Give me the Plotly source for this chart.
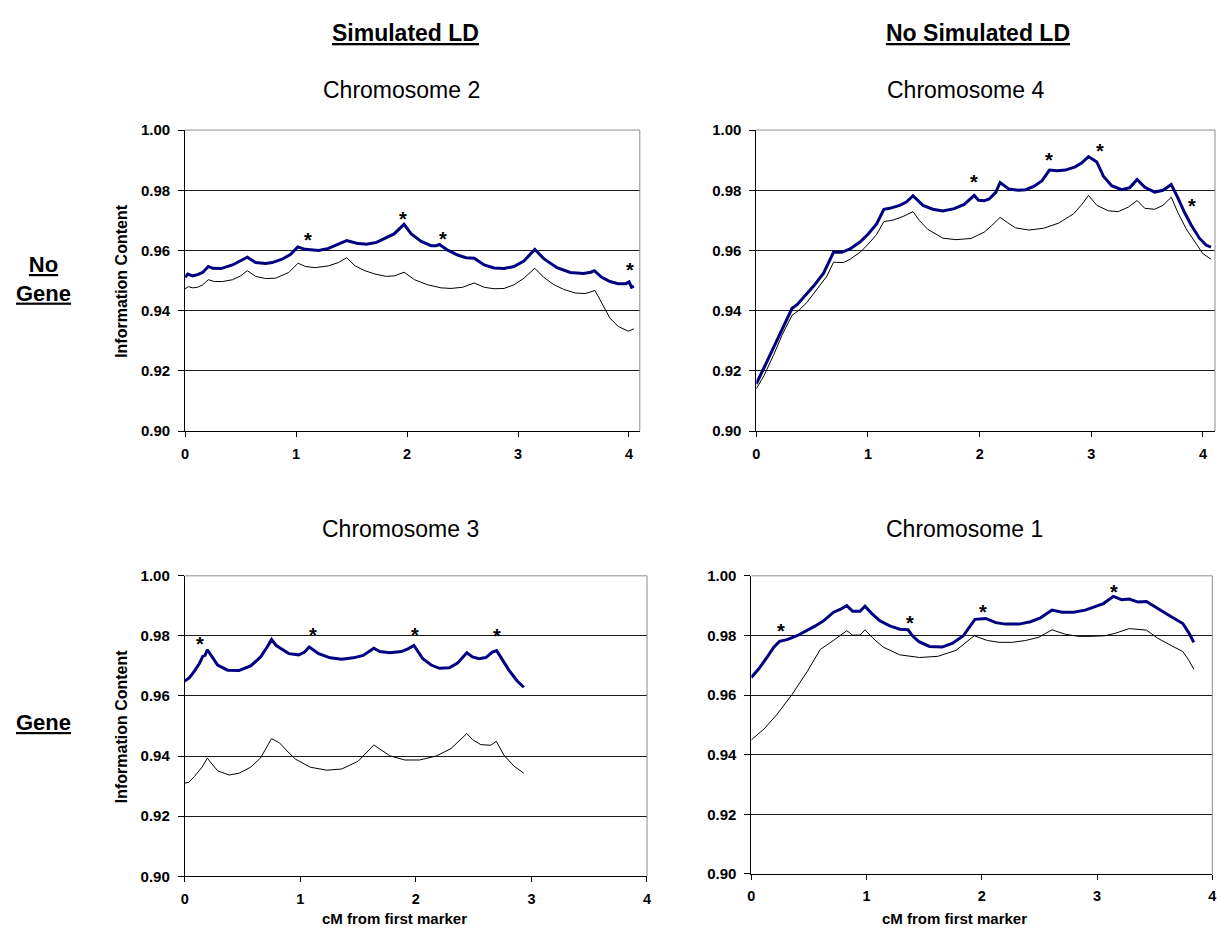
import plotly.graph_objects as go

# ---------------- DATA ----------------
# Chromosome 2 (Simulated LD, No Gene)
chr2_blue_x = [0.000, 0.024, 0.069, 0.113, 0.158, 0.209, 0.248, 0.322, 0.427, 0.501, 0.561, 0.636, 0.725, 0.785,
               0.874, 0.949, 1.015, 1.083, 1.203, 1.292, 1.382, 1.456, 1.546, 1.635, 1.725, 1.799, 1.883, 1.973,
               2.038, 2.128, 2.217, 2.262, 2.292, 2.366, 2.456, 2.531, 2.605, 2.695, 2.784, 2.874, 2.963, 3.053,
               3.151, 3.232, 3.351, 3.471, 3.590, 3.656, 3.688, 3.754, 3.829, 3.903, 3.972, 4.002, 4.023, 4.044]
chr2_blue_y = [0.9511, 0.9522, 0.9516, 0.9520, 0.9527, 0.9547, 0.9541, 0.9540, 0.9552, 0.9565, 0.9578, 0.9560,
               0.9557, 0.9560, 0.9571, 0.9587, 0.9612, 0.9604, 0.9600, 0.9607, 0.9620, 0.9633, 0.9624, 0.9621,
               0.9627, 0.9639, 0.9655, 0.9687, 0.9655, 0.9630, 0.9616, 0.9616, 0.9620, 0.9601, 0.9585, 0.9576,
               0.9574, 0.9552, 0.9542, 0.9540, 0.9547, 0.9565, 0.9604, 0.9573, 0.9543, 0.9527, 0.9524, 0.9528,
               0.9533, 0.9511, 0.9497, 0.9490, 0.9490, 0.9496, 0.9478, 0.9482]
chr2_black_x = [0.000, 0.030, 0.069, 0.113, 0.158, 0.209, 0.263, 0.337, 0.427, 0.501, 0.561, 0.636, 0.725, 0.815,
                0.934, 1.018, 1.083, 1.173, 1.292, 1.382, 1.456, 1.531, 1.620, 1.710, 1.814, 1.889, 1.973, 2.068,
                2.187, 2.307, 2.396, 2.501, 2.605, 2.695, 2.784, 2.874, 2.963, 3.053, 3.151, 3.232, 3.321, 3.411,
                3.515, 3.605, 3.694, 3.769, 3.829, 3.903, 3.993, 4.044]
chr2_black_y = [0.9473, 0.9480, 0.9476, 0.9478, 0.9486, 0.9503, 0.9497, 0.9497, 0.9503, 0.9516, 0.9533, 0.9514,
                0.9507, 0.9508, 0.9527, 0.9558, 0.9547, 0.9543, 0.9549, 0.9560, 0.9576, 0.9549, 0.9533, 0.9522,
                0.9514, 0.9516, 0.9528, 0.9503, 0.9486, 0.9476, 0.9474, 0.9478, 0.9492, 0.9478, 0.9473, 0.9474,
                0.9486, 0.9508, 0.9541, 0.9511, 0.9487, 0.9471, 0.9459, 0.9457, 0.9467, 0.9413, 0.9375, 0.9348,
                0.9332, 0.9340]
chr2_star_x = [1.107, 1.967, 2.325, 4.008]
chr2_star_y = [0.9647, 0.9717, 0.9652, 0.9549]

# Chromosome 4 (No Simulated LD, No Gene)
chr4_blue_x = [0.000, 0.068, 0.157, 0.246, 0.320, 0.365, 0.424, 0.513, 0.602, 0.691, 0.765, 0.839, 0.928, 1.002,
               1.077, 1.142, 1.195, 1.284, 1.343, 1.403, 1.492, 1.581, 1.670, 1.773, 1.862, 1.951, 1.990, 2.040,
               2.085, 2.144, 2.183, 2.263, 2.352, 2.411, 2.485, 2.559, 2.625, 2.693, 2.767, 2.856, 2.915, 2.975,
               3.049, 3.108, 3.182, 3.271, 3.345, 3.410, 3.479, 3.568, 3.642, 3.716, 3.775, 3.835, 3.894, 3.968,
               4.027, 4.072]
chr4_blue_y = [0.9157, 0.9211, 0.9282, 0.9352, 0.9408, 0.9420, 0.9444, 0.9482, 0.9525, 0.9594, 0.9594, 0.9605,
               0.9628, 0.9655, 0.9688, 0.9737, 0.9740, 0.9750, 0.9761, 0.9782, 0.9750, 0.9737, 0.9731, 0.9739,
               0.9753, 0.9783, 0.9767, 0.9765, 0.9771, 0.9793, 0.9826, 0.9804, 0.9800, 0.9802, 0.9813, 0.9832,
               0.9867, 0.9865, 0.9867, 0.9878, 0.9891, 0.9912, 0.9894, 0.9847, 0.9815, 0.9802, 0.9809, 0.9836,
               0.9810, 0.9794, 0.9800, 0.9819, 0.9775, 0.9726, 0.9685, 0.9641, 0.9618, 0.9611]
chr4_black_x = [0.000, 0.068, 0.157, 0.231, 0.320, 0.380, 0.454, 0.543, 0.632, 0.691, 0.780, 0.839, 0.928, 1.002,
                1.077, 1.142, 1.225, 1.314, 1.403, 1.462, 1.536, 1.670, 1.788, 1.922, 2.040, 2.109, 2.183, 2.248,
                2.322, 2.441, 2.574, 2.708, 2.841, 2.915, 2.975, 3.049, 3.152, 3.241, 3.330, 3.410, 3.479, 3.568,
                3.642, 3.716, 3.775, 3.849, 3.923, 3.998, 4.072]
chr4_black_y = [0.9141, 0.9184, 0.9255, 0.9320, 0.9385, 0.9401, 0.9428, 0.9471, 0.9515, 0.9561, 0.9560, 0.9571,
                0.9594, 0.9621, 0.9653, 0.9696, 0.9701, 0.9713, 0.9729, 0.9699, 0.9670, 0.9641, 0.9636, 0.9640,
                0.9661, 0.9683, 0.9710, 0.9693, 0.9675, 0.9668, 0.9674, 0.9691, 0.9722, 0.9753, 0.9783, 0.9750,
                0.9732, 0.9729, 0.9744, 0.9766, 0.9740, 0.9737, 0.9750, 0.9777, 0.9726, 0.9672, 0.9631, 0.9590,
                0.9571]
chr4_star_x = [1.945, 2.619, 3.078, 3.900]
chr4_star_y = [0.9842, 0.9915, 0.9945, 0.9761]

# Chromosome 3 (Simulated LD, Gene)
chr3_blue_x = [0.000, 0.040, 0.083, 0.126, 0.155, 0.175, 0.195, 0.235, 0.284, 0.370, 0.470, 0.570, 0.656, 0.713,
               0.751, 0.791, 0.828, 0.900, 0.986, 1.037, 1.077, 1.158, 1.258, 1.358, 1.458, 1.544, 1.636, 1.688,
               1.774, 1.874, 1.931, 1.983, 2.060, 2.132, 2.203, 2.289, 2.361, 2.441, 2.490, 2.547, 2.605, 2.662,
               2.699, 2.748, 2.805, 2.877, 2.934]
chr3_blue_y = [0.9650, 0.9661, 0.9683, 0.9708, 0.9732, 0.9735, 0.9754, 0.9730, 0.9703, 0.9686, 0.9685, 0.9700,
               0.9730, 0.9763, 0.9788, 0.9768, 0.9759, 0.9741, 0.9737, 0.9746, 0.9763, 0.9741, 0.9727, 0.9722,
               0.9727, 0.9735, 0.9759, 0.9748, 0.9744, 0.9748, 0.9757, 0.9768, 0.9724, 0.9703, 0.9692, 0.9694,
               0.9710, 0.9744, 0.9730, 0.9724, 0.9728, 0.9746, 0.9751, 0.9719, 0.9686, 0.9650, 0.9629]
chr3_black_x = [0.000, 0.034, 0.083, 0.149, 0.195, 0.235, 0.284, 0.384, 0.470, 0.570, 0.656, 0.751, 0.819, 0.885,
                0.957, 1.086, 1.229, 1.358, 1.501, 1.636, 1.702, 1.774, 1.903, 2.032, 2.175, 2.304, 2.441, 2.490,
                2.562, 2.648, 2.696, 2.762, 2.848, 2.934]
chr3_black_y = [0.9310, 0.9313, 0.9332, 0.9363, 0.9393, 0.9374, 0.9351, 0.9337, 0.9343, 0.9363, 0.9394, 0.9458,
                0.9444, 0.9417, 0.9390, 0.9363, 0.9353, 0.9357, 0.9383, 0.9437, 0.9419, 0.9401, 0.9387, 0.9387,
                0.9400, 0.9425, 0.9475, 0.9455, 0.9438, 0.9436, 0.9449, 0.9403, 0.9367, 0.9343]
chr3_star_x = [0.135, 1.106, 1.991, 2.702]
chr3_star_y = [0.9786, 0.9817, 0.9817, 0.9814]

# Chromosome 1 (No Simulated LD, Gene)
chr1_blue_x = [0.000, 0.066, 0.138, 0.195, 0.244, 0.310, 0.397, 0.483, 0.555, 0.626, 0.713, 0.770, 0.828, 0.879,
               0.943, 0.986, 1.043, 1.115, 1.201, 1.287, 1.359, 1.402, 1.454, 1.546, 1.655, 1.747, 1.839, 1.940,
               2.034, 2.121, 2.207, 2.322, 2.422, 2.509, 2.609, 2.695, 2.796, 2.897, 2.983, 3.055, 3.141, 3.213,
               3.279, 3.356, 3.428, 3.529, 3.644, 3.744, 3.802, 3.839]
chr1_blue_y = [0.9659, 0.9689, 0.9728, 0.9761, 0.9780, 0.9786, 0.9799, 0.9816, 0.9832, 0.9849, 0.9878, 0.9887,
               0.9900, 0.9881, 0.9881, 0.9898, 0.9874, 0.9849, 0.9832, 0.9821, 0.9819, 0.9797, 0.9779, 0.9763,
               0.9761, 0.9774, 0.9799, 0.9854, 0.9857, 0.9843, 0.9838, 0.9838, 0.9846, 0.9859, 0.9885, 0.9878,
               0.9878, 0.9885, 0.9896, 0.9907, 0.9931, 0.9920, 0.9922, 0.9912, 0.9914, 0.9889, 0.9863, 0.9840,
               0.9805, 0.9777]
chr1_black_x = [0.000, 0.109, 0.224, 0.353, 0.483, 0.598, 0.718, 0.828, 0.879, 0.943, 0.986, 1.057, 1.144, 1.287,
                1.460, 1.618, 1.776, 1.934, 2.049, 2.149, 2.264, 2.379, 2.494, 2.609, 2.724, 2.839, 2.954, 3.069,
                3.155, 3.279, 3.428, 3.529, 3.644, 3.744, 3.796, 3.839]
chr1_black_y = [0.9450, 0.9486, 0.9536, 0.9602, 0.9678, 0.9753, 0.9785, 0.9816, 0.9801, 0.9801, 0.9819, 0.9790,
                0.9761, 0.9735, 0.9726, 0.9730, 0.9750, 0.9799, 0.9783, 0.9777, 0.9777, 0.9783, 0.9794, 0.9819,
                0.9804, 0.9797, 0.9797, 0.9799, 0.9807, 0.9823, 0.9818, 0.9790, 0.9766, 0.9746, 0.9717, 0.9687]
chr1_star_x = [0.261, 1.376, 2.011, 3.144]
chr1_star_y = [0.9827, 0.9854, 0.9892, 0.9960]

y_ticks = [0.90, 0.92, 0.94, 0.96, 0.98, 1.00]
x_ticks = [0, 1, 2, 3, 4]

col_headers = ["Simulated LD", "No Simulated LD"]
row_headers = [["No", "Gene"], ["Gene"]]
y_title = "Information Content"
x_title = "cM from first marker"

# ---------------- LAYOUT ----------------
# Positions are given in window pixels; the body margin is removed (post_script)
# so that the 1221x936 figure fills the window exactly.
W, H = 1221, 936
FONT = "Liberation Sans, Arial, sans-serif"
BLUE = "#000080"


def fx(p):
    return p / W


def fy(p):
    return 1 - p / H


panels = [
    dict(title="Chromosome 2", n="", box=(182.3, 640.0, 123.3, 430.0), ppu=111.7,
         bx=chr2_blue_x, by=chr2_blue_y, kx=chr2_black_x, ky=chr2_black_y, sx=chr2_star_x, sy=chr2_star_y,
         tcx=400, tcy=82, ylab=True, xlab=False),
    dict(title="Chromosome 4", n="2", box=(757.3, 1219.0, 123.3, 430.0), ppu=112.4,
         bx=chr4_blue_x, by=chr4_blue_y, kx=chr4_black_x, ky=chr4_black_y, sx=chr4_star_x, sy=chr4_star_y,
         tcx=968, tcy=82, ylab=False, xlab=False),
    dict(title="Chromosome 3", n="3", box=(182.0, 647.3, 577.3, 883.3), ppu=116.3,
         bx=chr3_blue_x, by=chr3_blue_y, kx=chr3_black_x, ky=chr3_black_y, sx=chr3_star_x, sy=chr3_star_y,
         tcx=399, tcy=530, ylab=True, xlab=True, xlab_cx=393),
    dict(title="Chromosome 1", n="4", box=(752.3, 1216.3, 577.3, 881.0), ppu=116.0,
         bx=chr1_blue_x, by=chr1_blue_y, kx=chr1_black_x, ky=chr1_black_y, sx=chr1_star_x, sy=chr1_star_y,
         tcx=967, tcy=530, ylab=False, xlab=True, xlab_cx=957),
]

fig = go.Figure()
annotations = []
shapes = []
layout_axes = {}

for p in panels:
    n = p["n"]
    xref, yref = "x" + n, "y" + n
    x0, x1, y0, y1 = p["box"]
    xmax = (x1 - x0) / p["ppu"]
    fig.add_trace(go.Scatter(x=p["kx"], y=p["ky"], mode="lines", xaxis=xref, yaxis=yref, cliponaxis=False,
                             line=dict(color="#000000", width=1), showlegend=False, hoverinfo="skip"))
    fig.add_trace(go.Scatter(x=p["bx"], y=p["by"], mode="lines", xaxis=xref, yaxis=yref, cliponaxis=False,
                             line=dict(color=BLUE, width=3), showlegend=False, hoverinfo="skip"))
    layout_axes["xaxis" + n] = dict(
        domain=[fx(x0), fx(x1)], range=[0, xmax], anchor=yref,
        tickvals=x_ticks, ticktext=[str(v) for v in x_ticks],
        ticks="outside", ticklen=5, tickcolor="#000", tickwidth=1, ticklabelstandoff=4,
        showline=True, linecolor="#000", linewidth=1, showgrid=False, zeroline=False,
        tickfont=dict(family=FONT, size=14.5, color="#000", weight="bold"), fixedrange=True)
    layout_axes["yaxis" + n] = dict(
        domain=[fy(y1), fy(y0)], range=[0.90, 1.00], anchor=xref,
        tickvals=y_ticks, ticktext=["%.2f" % v for v in y_ticks],
        ticks="outside", ticklen=6, tickcolor="#000", tickwidth=1, ticklabelstandoff=5,
        showline=True, linecolor="#000", linewidth=1, showgrid=True, gridcolor="#1a1a1a", gridwidth=1,
        zeroline=False, tickfont=dict(family=FONT, size=15, color="#000", weight="bold"), fixedrange=True)
    # gray frame on top and right
    dx = xref + " domain"
    dy = yref + " domain"
    shapes.append(dict(type="line", xref=dx, yref=dy, x0=0, x1=1, y0=1, y1=1,
                       line=dict(color="#8c8c8c", width=1), layer="above"))
    shapes.append(dict(type="line", xref=dx, yref=dy, x0=1, x1=1, y0=0, y1=1,
                       line=dict(color="#8c8c8c", width=1), layer="above"))
    # stars
    for sx, sy in zip(p["sx"], p["sy"]):
        annotations.append(dict(x=sx, y=sy, xref=xref, yref=yref, text="<b>*</b>", showarrow=False,
                                font=dict(family=FONT, size=20, color="#000"), yshift=-4,
                                xanchor="center", yanchor="middle"))
    # chart title
    annotations.append(dict(x=fx(p["tcx"]), y=fy(p["tcy"]), xref="paper", yref="paper", text=p["title"],
                            showarrow=False, font=dict(family=FONT, size=23, color="#000"),
                            xanchor="center", yanchor="middle"))
    if p["ylab"]:
        annotations.append(dict(x=fx(118), y=fy((y0 + y1) / 2), xref="paper", yref="paper",
                                text="<b>%s</b>" % y_title, textangle=-90, showarrow=False,
                                font=dict(family=FONT, size=16, color="#000"),
                                xanchor="center", yanchor="middle"))
    if p["xlab"]:
        annotations.append(dict(x=fx(p["xlab_cx"]), y=fy(926), xref="paper", yref="paper",
                                text="<b>%s</b>" % x_title, showarrow=False,
                                font=dict(family=FONT, size=15, color="#000"),
                                xanchor="center", yanchor="middle"))

# column headers
for txt, cx in zip(col_headers, [404, 980]):
    annotations.append(dict(x=fx(cx), y=fy(24), xref="paper", yref="paper", text="<b><u>%s</u></b>" % txt,
                            showarrow=False, font=dict(family=FONT, size=23, color="#000"),
                            xanchor="center", yanchor="middle"))
# row headers
for lines, cy in zip(row_headers, [275.5, 727]):
    annotations.append(dict(x=fx(40), y=fy(cy), xref="paper", yref="paper",
                            text="<br>".join("<b><u>%s</u></b>" % s for s in lines),
                            showarrow=False, font=dict(family=FONT, size=22, color="#000"),
                            xanchor="center", yanchor="middle", align="center"))

fig.update_layout(width=W, height=H, margin=dict(l=0, r=0, t=0, b=0),
                  paper_bgcolor="white", plot_bgcolor="white",
                  annotations=annotations, shapes=shapes, **layout_axes)

fig.write_html("out.html", config={"displayModeBar": False},
               post_script="document.body.style.margin='0px';")
